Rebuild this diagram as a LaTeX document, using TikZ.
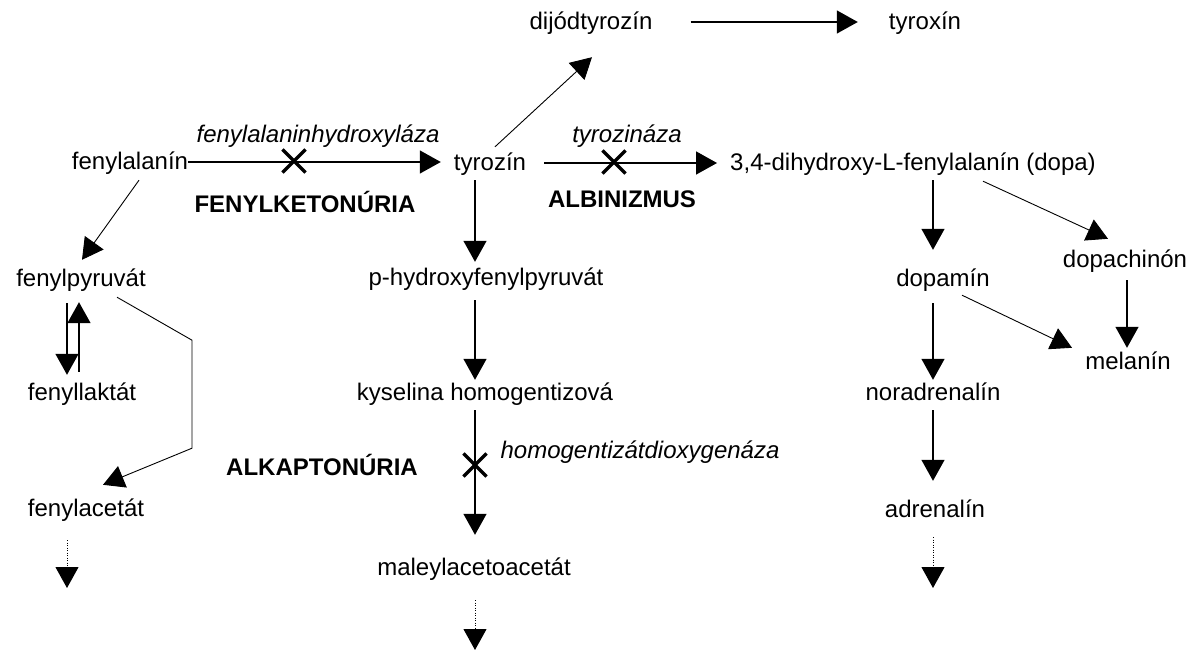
\documentclass[tikz,border=0pt]{standalone}
\usepackage{fontspec}
\setmainfont{Liberation Sans}
\usetikzlibrary{arrows.meta,shapes.misc}

\begin{document}
\begin{tikzpicture}[x=1pt,y=-1pt,>={Triangle[length=21pt,width=23pt]},
  txt/.style={anchor=base,inner sep=0pt,text height=18pt,text depth=2pt,font=\fontsize{24}{28}\selectfont},
  lbl/.style={anchor=base,inner sep=0pt,font=\fontsize{24}{28}\selectfont\itshape},
  dis/.style={anchor=base,inner sep=0pt,font=\fontsize{24}{28}\selectfont\bfseries},
  arr/.style={->,line width=1.4pt},
  slant/.style={->,line width=0.9pt},
  dots/.style={->,line width=1pt,dash pattern=on 1pt off 1.5pt},
  blockx/.style={cross out,draw,line width=3.2pt,minimum size=20pt,inner sep=0pt}]
  \useasboundingbox (0,0) rectangle (1197,652);
  % metabolites
  \node[txt] (dijod) at (591,30) {dijódtyrozín};
  \node[txt] (tyrox) at (925,30) {tyroxín};
  \node[txt] (fen) at (130,170) {fenylalanín};
  \node[txt] (tyr) at (490,171) {tyrozín};
  \node[txt] (dopa) at (913,171) {3,4-dihydroxy-L-fenylalanín (dopa)};
  \node[txt] (fpyr) at (81,287) {fenylpyruvát};
  \node[txt] (phyd) at (486,286) {p-hydroxyfenylpyruvát};
  \node[txt] (dopamin) at (943,287) {dopamín};
  \node[txt] (dopach) at (1125,268) {dopachinón};
  \node[txt] (melanin) at (1128,370) {melanín};
  \node[txt] (flak) at (82,400) {fenyllaktát};
  \node[txt] (kys) at (485,400) {kyselina homogentizová};
  \node[txt] (noradr) at (933,400) {noradrenalín};
  \node[txt] (facet) at (86,516) {fenylacetát};
  \node[txt] (adr) at (935,517) {adrenalín};
  \node[txt] (maleyl) at (474,575) {maleylacetoacetát};
  % enzymes and diseases
  \node[lbl] (hydrox) at (318,143) {fenylalaninhydroxyláza};
  \node[lbl] (tyrase) at (627,143) {tyrozináza};
  \node[lbl] (homog) at (640,458) {homogentizátdioxygenáza};
  \node[dis] (fku) at (305,213) {FENYLKETONÚRIA};
  \node[dis] (alb) at (622,208) {ALBINIZMUS};
  \node[dis] (alk) at (322,475) {ALKAPTONÚRIA};
  % blocked steps
  \node[blockx] (xfen) at (294,161) {};
  \node[blockx] (xtyr) at (614,162) {};
  \node[blockx] (xkys) at (475,465) {};
  \coordinate (maleylend) at (475,650);
  \coordinate (facetend) at (67,588);
  \coordinate (adrend) at (933,588);

  % main line
  \draw[arr,shorten >=13pt] (fen.east) -- (fen.east -| tyr.west);
  \draw[arr,shorten <=18pt,shorten >=13pt] (tyr.east) -- (tyr.east -| dopa.west);
  \draw[arr,shorten <=38pt,shorten >=31pt] (dijod.east) -- (tyrox.west);
  \draw[slant] ([xshift=5pt,yshift=6pt]tyr.north) -- ([xshift=1pt,yshift=-25pt]dijod.south);
  % left branch
  \draw[slant] ([xshift=9pt,yshift=-8pt]fen.south) -- ([xshift=1pt,yshift=9pt]fpyr.north);
  \draw[arr] ([xshift=-14pt,yshift=-14pt]fpyr.south) -- ([xshift=-15pt,yshift=7pt]flak.north);
  \draw[arr] ([xshift=-3pt,yshift=10pt]flak.north) -- ([xshift=-2pt,yshift=-13pt]fpyr.south);
  \draw[slant] ([xshift=36pt,yshift=-8pt]fpyr.south) -- ++(75,43) -- ++(0,108) -- ([xshift=17pt,yshift=13pt]facet.north);
  \draw[dots] ([xshift=-19pt,yshift=-22pt]facet.south) -- (facetend);
  % middle branch
  \draw[arr] ([xshift=-15pt,yshift=-7pt]tyr.south) -- ([xshift=-11pt,yshift=6pt]phyd.north);
  \draw[arr] ([xshift=-11pt,yshift=-12pt]phyd.south) -- ([xshift=-10pt,yshift=2pt]kys.north);
  \draw[arr] ([xshift=-10pt,yshift=-8pt]kys.south) -- ([xshift=1pt,yshift=22pt]maleyl.north);
  \draw[dots] ([xshift=1pt,yshift=-23pt]maleyl.south) -- (maleylend);
  % right branch
  \draw[arr] ([xshift=20pt,yshift=-7pt]dopa.south) -- ([xshift=-10pt,yshift=19pt]dopamin.north);
  \draw[slant] ([xshift=70pt,yshift=-8pt]dopa.south) -- ([xshift=-17pt,yshift=11pt]dopach.north);
  \draw[arr] ([xshift=2pt,yshift=-10pt]dopach.south) -- ([xshift=-1pt,yshift=4pt]melanin.north);
  \draw[slant] ([xshift=19pt,yshift=-6pt]dopamin.south) -- ([xshift=-56pt,yshift=4pt]melanin.north);
  \draw[arr] ([xshift=-10pt,yshift=-14pt]dopamin.south) -- ([yshift=2pt]noradr.north);
  \draw[arr] ([yshift=-8pt]noradr.south) -- ([xshift=-2pt,yshift=18pt]adr.north);
  \draw[dots] ([xshift=-2pt,yshift=-18pt]adr.south) -- (adrend);
\end{tikzpicture}
\end{document}
